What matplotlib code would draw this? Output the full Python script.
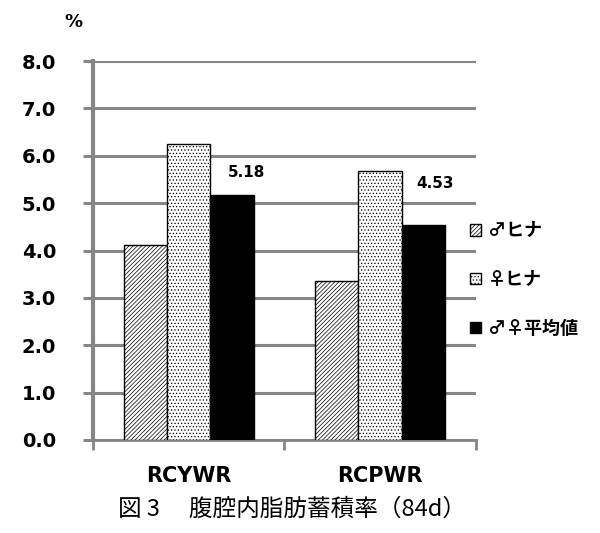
import matplotlib
matplotlib.use("Agg")
import matplotlib.pyplot as plt
import numpy as np

# Data
categories = ["RCYWR", "RCPWR"]
series_names = ["♂ヒナ", "♀ヒナ", "♂♀平均値"]
male_chick = [4.11, 3.36]
female_chick = [6.25, 5.68]
mean_both = [5.18, 4.53]
y_ticks = [0.0, 1.0, 2.0, 3.0, 4.0, 5.0, 6.0, 7.0, 8.0]
caption = "図 3　 腹腔内脂肪蓄積率（84d）"

plt.rcParams["hatch.linewidth"] = 0.5
cjk = ["Noto Sans CJK JP", "DejaVu Sans"]

fig = plt.figure(figsize=(6.0, 5.33), dpi=100)
ax = fig.add_axes([0.155, 0.1745, 0.638, 0.711])

x = np.arange(len(categories))
w = 0.227
grid_gray = "#868686"

b1 = ax.bar(x - w, male_chick, w, facecolor="white", edgecolor="black",
            linewidth=1.0, hatch="////////", zorder=3)
b2 = ax.bar(x, female_chick, w, facecolor="white", edgecolor="black",
            linewidth=1.0, hatch=".....", zorder=3)
b3 = ax.bar(x + w, mean_both, w, facecolor="black", edgecolor="black",
            linewidth=1.0, zorder=3)

# value labels on the mean bars
label_offsets = [(14, 22), (12, 42)]
for xi, v, off in zip(x + w, mean_both, label_offsets):
    ax.annotate(f"{v:.2f}", (xi, v), xytext=off, textcoords="offset pixels",
                ha="center", va="center", fontsize=11, fontweight="bold",
                color="black")

ax.set_xlim(-0.5, 1.5)
ax.set_ylim(0, 8)
ax.set_yticks(y_ticks)
ax.set_yticklabels([f"{t:.1f}" for t in y_ticks], fontsize=14, fontweight="bold")
ax.yaxis.grid(True, color=grid_gray, linewidth=2.2, zorder=0)
ax.set_axisbelow(True)

# category boundary ticks with labels centred between them
ax.set_xticks([-0.5, 0.5, 1.5])
ax.set_xticklabels([])
ax.set_xticks(x, minor=True)
ax.set_xticklabels(categories, minor=True, fontsize=15, fontweight="bold")
ax.tick_params(axis="x", which="major", length=7.5, width=2, color=grid_gray)
ax.tick_params(axis="x", which="minor", length=0, pad=19)
ax.tick_params(axis="y", length=7.5, width=2.2, color=grid_gray, pad=19)

for s in ["top", "right"]:
    ax.spines[s].set_visible(False)
ax.spines["left"].set_color(grid_gray)
ax.spines["left"].set_linewidth(3)
ax.spines["bottom"].set_color(grid_gray)
ax.spines["bottom"].set_linewidth(2)

fig.text(73 / 600, 1 - 22 / 533, "%", fontsize=13, fontweight="bold",
         ha="center", va="center")

leg = fig.legend([b1, b2, b3], series_names, loc="upper left",
                 bbox_to_anchor=(0.757, 1 - 205 / 533), frameon=False,
                 prop={"family": cjk, "weight": "bold", "size": 13},
                 handlelength=0.6, handleheight=0.6, handletextpad=0.35,
                 labelspacing=1.65)

fig.text(292 / 600, 1 - 509 / 533, caption, fontsize=17, family=cjk,
         ha="center", va="center")

fig.savefig("out.png", dpi=100)
